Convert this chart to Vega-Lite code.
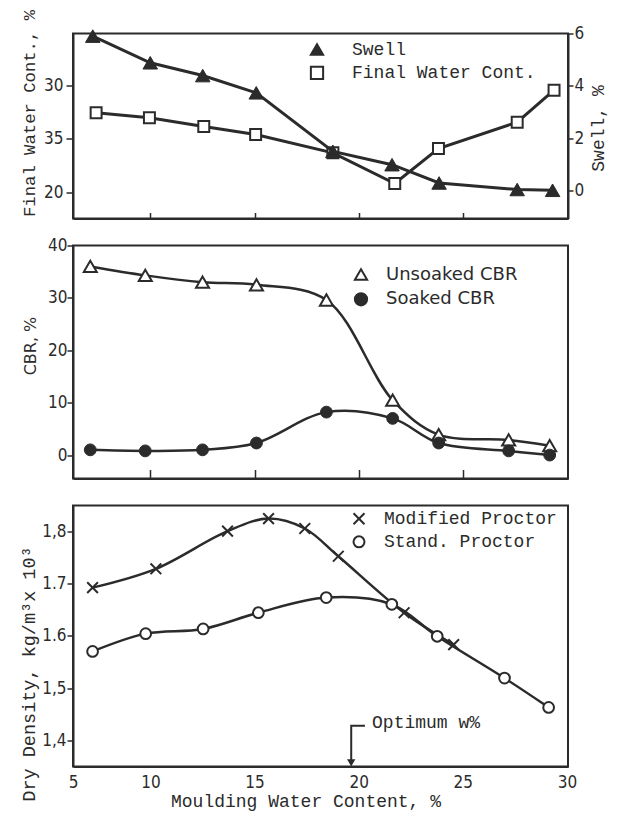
{
  "$schema": "https://vega.github.io/schema/vega-lite/v6.json",
  "background": "white",
  "padding": {"left": 17, "top": 7.5, "right": 5, "bottom": 0},
  "spacing": 27,
  "bounds": "flush",
  "resolve": {"scale": {"shape": "independent", "fill": "independent", "stroke": "independent"}, "legend": {"shape": "independent", "fill": "independent", "stroke": "independent"}},
  "datasets": {
    "top": [
      {"series": "Swell", "x": 7.23, "v": 5.9},
      {"series": "Swell", "x": 9.99, "v": 4.88},
      {"series": "Swell", "x": 12.51, "v": 4.39},
      {"series": "Swell", "x": 15.08, "v": 3.73},
      {"series": "Swell", "x": 18.76, "v": 1.49},
      {"series": "Swell", "x": 21.6, "v": 0.98},
      {"series": "Swell", "x": 23.86, "v": 0.28},
      {"series": "Swell", "x": 27.61, "v": 0.03},
      {"series": "Swell", "x": 29.31, "v": 0.0},
      {"series": "Final Water Cont.", "x": 7.39, "v": 27.42},
      {"series": "Final Water Cont.", "x": 9.95, "v": 26.95},
      {"series": "Final Water Cont.", "x": 12.56, "v": 26.14},
      {"series": "Final Water Cont.", "x": 15.05, "v": 25.39},
      {"series": "Final Water Cont.", "x": 18.76, "v": 23.68},
      {"series": "Final Water Cont.", "x": 21.73, "v": 20.81},
      {"series": "Final Water Cont.", "x": 23.83, "v": 24.08},
      {"series": "Final Water Cont.", "x": 27.61, "v": 26.54},
      {"series": "Final Water Cont.", "x": 29.38, "v": 29.53}
    ],
    "mid": [
      {"series": "Unsoaked CBR", "x": 7.11, "v": 36.0},
      {"series": "Unsoaked CBR", "x": 9.75, "v": 34.3},
      {"series": "Unsoaked CBR", "x": 12.5, "v": 33.0},
      {"series": "Unsoaked CBR", "x": 15.09, "v": 32.5},
      {"series": "Unsoaked CBR", "x": 18.45, "v": 29.6},
      {"series": "Unsoaked CBR", "x": 21.63, "v": 10.5},
      {"series": "Unsoaked CBR", "x": 23.84, "v": 3.9},
      {"series": "Unsoaked CBR", "x": 27.2, "v": 2.9},
      {"series": "Unsoaked CBR", "x": 29.17, "v": 1.8},
      {"series": "Soaked CBR", "x": 7.11, "v": 1.0},
      {"series": "Soaked CBR", "x": 9.75, "v": 0.8},
      {"series": "Soaked CBR", "x": 12.5, "v": 1.0},
      {"series": "Soaked CBR", "x": 15.09, "v": 2.3},
      {"series": "Soaked CBR", "x": 18.45, "v": 8.2},
      {"series": "Soaked CBR", "x": 21.63, "v": 7.0},
      {"series": "Soaked CBR", "x": 23.84, "v": 2.3},
      {"series": "Soaked CBR", "x": 27.2, "v": 0.8},
      {"series": "Soaked CBR", "x": 29.17, "v": 0.0}
    ],
    "bot": [
      {"series": "Modified Proctor", "x": 7.22, "v": 1.692},
      {"series": "Modified Proctor", "x": 10.26, "v": 1.728},
      {"series": "Modified Proctor", "x": 13.7, "v": 1.8},
      {"series": "Modified Proctor", "x": 15.67, "v": 1.824},
      {"series": "Modified Proctor", "x": 17.41, "v": 1.805},
      {"series": "Modified Proctor", "x": 19.02, "v": 1.752},
      {"series": "Modified Proctor", "x": 22.18, "v": 1.644},
      {"series": "Modified Proctor", "x": 24.56, "v": 1.583},
      {"series": "Stand. Proctor", "x": 7.22, "v": 1.57},
      {"series": "Stand. Proctor", "x": 9.77, "v": 1.604},
      {"series": "Stand. Proctor", "x": 12.53, "v": 1.613},
      {"series": "Stand. Proctor", "x": 15.18, "v": 1.644},
      {"series": "Stand. Proctor", "x": 18.44, "v": 1.673},
      {"series": "Stand. Proctor", "x": 21.59, "v": 1.66},
      {"series": "Stand. Proctor", "x": 23.77, "v": 1.599},
      {"series": "Stand. Proctor", "x": 27.0, "v": 1.519},
      {"series": "Stand. Proctor", "x": 29.12, "v": 1.463}
    ],
    "ann": [
      {"kind": "bracket", "x": 20.3, "v": 1.428, "o": 1},
      {"kind": "bracket", "x": 19.64, "v": 1.428, "o": 2},
      {"kind": "bracket", "x": 19.64, "v": 1.36, "o": 3},
      {"kind": "head", "x": 19.64, "v": 1.357},
      {"kind": "label", "x": 20.64, "v": 1.433, "label": "Optimum w%"}
    ]
  },
  "vconcat": [
    {
      "width": 495,
      "height": 185,
      "data": {"name": "top"},
      "encoding": {
        "x": {"field": "x", "type": "quantitative", "scale": {"domain": [6.28, 30.05], "nice": false, "zero": false},
              "axis": {"values": [10, 15, 20, 25], "labels": false, "tickSize": -6, "title": null}}
      },
      "layer": [
        {
          "transform": [{"filter": "datum.series == 'Final Water Cont.'"}],
          "encoding": {
            "y": {"field": "v", "type": "quantitative", "scale": {"domain": [17.54, 34.83], "nice": false, "zero": false},
                  "axis": {"orient": "left", "values": [20, 25, 30], "labelExpr": "datum.value == 25 ? '35' : datum.label",
                           "tickSize": 7, "labelPadding": 3, "title": "Final Water Cont., %", "titleFontSize": 17.25,
                           "titleX": -43.5, "titleY": 79.5, "titleBaseline": "middle", "titleAngle": 270}}
          },
          "layer": [
            {"mark": {"type": "line", "color": "#2b2b2b", "strokeWidth": 3}, "encoding": {}},
            {"mark": {"type": "point", "filled": true, "size": 120, "strokeWidth": 2, "opacity": 1},
             "encoding": {
               "shape": {"field": "series", "type": "nominal", "scale": {"domain": ["Swell", "Final Water Cont."], "range": ["triangle-up", "square"]},
                         "legend": {"title": null, "orient": "none", "legendX": 235, "legendY": 7, "labelFont": "Liberation Mono", "labelFontSize": 18, "symbolSize": 150, "symbolStrokeWidth": 2, "labelOffset": 26, "rowPadding": 2.4}},
               "fill": {"field": "series", "type": "nominal", "scale": {"domain": ["Swell", "Final Water Cont."], "range": ["#2b2b2b", "white"]},
                        "legend": {"title": null, "orient": "none", "legendX": 235, "legendY": 7, "labelFont": "Liberation Mono", "labelFontSize": 18, "symbolSize": 150, "symbolStrokeWidth": 2, "labelOffset": 26, "rowPadding": 2.4}},
               "stroke": {"field": "series", "type": "nominal", "scale": {"domain": ["Swell", "Final Water Cont."], "range": ["#2b2b2b", "#2b2b2b"]},
                          "legend": {"title": null, "orient": "none", "legendX": 235, "legendY": 7, "labelFont": "Liberation Mono", "labelFontSize": 18, "symbolSize": 150, "symbolStrokeWidth": 2, "labelOffset": 26, "rowPadding": 2.4}}
             }}
          ]
        },
        {
          "transform": [{"filter": "datum.series == 'Swell'"}],
          "encoding": {
            "y": {"field": "v", "type": "quantitative", "scale": {"domain": [-1.08, 6], "nice": false, "zero": false},
                  "axis": {"orient": "right", "values": [0, 2, 4, 6], "tickSize": 5, "labelPadding": 1,
                           "title": "Swell, %", "titleFontSize": 18, "titleX": 30, "titleY": 94.5, "titleBaseline": "middle", "titleAngle": 270}}
          },
          "layer": [
            {"mark": {"type": "line", "color": "#2b2b2b", "strokeWidth": 3}, "encoding": {}},
            {"mark": {"type": "point", "filled": true, "size": 210, "strokeWidth": 1, "opacity": 1},
             "encoding": {
               "shape": {"field": "series", "type": "nominal", "scale": {"domain": ["Swell", "Final Water Cont."], "range": ["triangle-up", "square"]},
                         "legend": {"title": null, "orient": "none", "legendX": 235, "legendY": 7, "labelFont": "Liberation Mono", "labelFontSize": 18, "symbolSize": 150, "symbolStrokeWidth": 2, "labelOffset": 26, "rowPadding": 2.4}},
               "fill": {"field": "series", "type": "nominal", "scale": {"domain": ["Swell", "Final Water Cont."], "range": ["#2b2b2b", "white"]},
                        "legend": {"title": null, "orient": "none", "legendX": 235, "legendY": 7, "labelFont": "Liberation Mono", "labelFontSize": 18, "symbolSize": 150, "symbolStrokeWidth": 2, "labelOffset": 26, "rowPadding": 2.4}},
               "stroke": {"field": "series", "type": "nominal", "scale": {"domain": ["Swell", "Final Water Cont."], "range": ["#2b2b2b", "#2b2b2b"]},
                          "legend": {"title": null, "orient": "none", "legendX": 235, "legendY": 7, "labelFont": "Liberation Mono", "labelFontSize": 18, "symbolSize": 150, "symbolStrokeWidth": 2, "labelOffset": 26, "rowPadding": 2.4}}
             }}
          ]
        }
      ],
      "resolve": {"scale": {"y": "independent"}}
    },
    {
      "width": 495,
      "height": 233,
      "data": {"name": "mid"},
      "encoding": {
        "x": {"field": "x", "type": "quantitative", "scale": {"domain": [6.28, 30.05], "nice": false, "zero": false},
              "axis": {"values": [10, 15, 20, 25], "labels": false, "tickSize": -9, "title": null}},
        "y": {"field": "v", "type": "quantitative", "scale": {"domain": [-4.47, 40], "nice": false, "zero": false},
              "axis": {"values": [0, 10, 20, 30, 40], "tickSize": 6, "labelPadding": 0, "title": "CBR, %",
                       "titleFont": "DejaVu Sans", "titleFontSize": 16, "titleX": -43, "titleY": 100, "titleBaseline": "middle", "titleAngle": 270}}
      },
      "layer": [
        {"mark": {"type": "line", "color": "#2b2b2b", "strokeWidth": 2.5, "interpolate": "catmull-rom"},
         "encoding": {"detail": {"field": "series"}}},
        {"transform": [{"filter": "datum.series == 'Unsoaked CBR'"}],
         "mark": {"type": "point", "filled": true, "size": 170, "strokeWidth": 2, "opacity": 1},
         "encoding": {
           "shape": {"field": "series", "type": "nominal", "scale": {"domain": ["Unsoaked CBR", "Soaked CBR"], "range": ["triangle-up", "circle"]},
                     "legend": {"title": null, "orient": "none", "legendX": 279, "legendY": 20, "labelFont": "DejaVu Sans", "labelFontSize": 18, "symbolSize": 150, "symbolStrokeWidth": 2, "labelOffset": 16, "rowPadding": 3.8}},
           "fill": {"field": "series", "type": "nominal", "scale": {"domain": ["Unsoaked CBR", "Soaked CBR"], "range": ["white", "#2b2b2b"]},
                    "legend": {"title": null, "orient": "none", "legendX": 279, "legendY": 20, "labelFont": "DejaVu Sans", "labelFontSize": 18, "symbolSize": 150, "symbolStrokeWidth": 2, "labelOffset": 16, "rowPadding": 3.8}},
           "stroke": {"field": "series", "type": "nominal", "scale": {"domain": ["Unsoaked CBR", "Soaked CBR"], "range": ["#2b2b2b", "#2b2b2b"]},
                      "legend": {"title": null, "orient": "none", "legendX": 279, "legendY": 20, "labelFont": "DejaVu Sans", "labelFontSize": 18, "symbolSize": 150, "symbolStrokeWidth": 2, "labelOffset": 16, "rowPadding": 3.8}}
         }},
        {"transform": [{"filter": "datum.series == 'Soaked CBR'"}],
         "mark": {"type": "point", "filled": true, "size": 140, "strokeWidth": 1, "opacity": 1},
         "encoding": {
           "shape": {"field": "series", "type": "nominal", "scale": {"domain": ["Unsoaked CBR", "Soaked CBR"], "range": ["triangle-up", "circle"]},
                     "legend": {"title": null, "orient": "none", "legendX": 279, "legendY": 20, "labelFont": "DejaVu Sans", "labelFontSize": 18, "symbolSize": 150, "symbolStrokeWidth": 2, "labelOffset": 16, "rowPadding": 3.8}},
           "fill": {"field": "series", "type": "nominal", "scale": {"domain": ["Unsoaked CBR", "Soaked CBR"], "range": ["white", "#2b2b2b"]},
                    "legend": {"title": null, "orient": "none", "legendX": 279, "legendY": 20, "labelFont": "DejaVu Sans", "labelFontSize": 18, "symbolSize": 150, "symbolStrokeWidth": 2, "labelOffset": 16, "rowPadding": 3.8}},
           "stroke": {"field": "series", "type": "nominal", "scale": {"domain": ["Unsoaked CBR", "Soaked CBR"], "range": ["#2b2b2b", "#2b2b2b"]},
                      "legend": {"title": null, "orient": "none", "legendX": 279, "legendY": 20, "labelFont": "DejaVu Sans", "labelFontSize": 18, "symbolSize": 150, "symbolStrokeWidth": 2, "labelOffset": 16, "rowPadding": 3.8}}
         }}
      ]
    },
    {
      "width": 495,
      "height": 261,
      "encoding": {
        "x": {"field": "x", "type": "quantitative", "scale": {"domain": [6.28, 30.05], "nice": false, "zero": false},
              "axis": {"values": [6.28, 10, 15, 20, 25, 30], "labelExpr": "datum.value < 7 ? '5' : datum.label", "labelFlush": false,
                       "ticks": false, "labelPadding": 8, "title": "Moulding Water Content, %", "titleFontSize": 18,
                       "titleX": 232.5, "titleY": 34.5, "titleBaseline": "middle"}},
        "y": {"field": "v", "type": "quantitative", "scale": {"domain": [1.35, 1.849], "nice": false, "zero": false},
              "axis": {"values": [1.4, 1.5, 1.6, 1.7, 1.8],
                       "labelExpr": "format(datum.value, '.1f') == '1.7' || format(datum.value, '.1f') == '1.6' ? format(datum.value, '.1f') : replace(format(datum.value, '.1f'), '.', ',')",
                       "tickSize": 6, "labelPadding": 1, "title": "Dry Density, kg/m³x 10³", "titleFontSize": 18.5,
                       "titleX": -45, "titleY": 168, "titleBaseline": "middle", "titleAngle": 270}}
      },
      "layer": [
        {"data": {"name": "bot"},
         "mark": {"type": "line", "color": "#2b2b2b", "strokeWidth": 2.5, "interpolate": "catmull-rom"},
         "encoding": {"detail": {"field": "series"}}},
        {"data": {"name": "bot"},
         "mark": {"type": "point", "filled": true, "size": 115, "strokeWidth": 2, "opacity": 1},
         "encoding": {
           "shape": {"field": "series", "type": "nominal", "scale": {"domain": ["Modified Proctor", "Stand. Proctor"], "range": ["M-1,-1L1,1M-1,1L1,-1", "circle"]},
                     "legend": {"title": null, "orient": "none", "legendX": 277, "legendY": 4.3, "labelFont": "Liberation Mono", "labelFontSize": 18, "symbolSize": 120, "symbolStrokeWidth": 2, "labelOffset": 16, "rowPadding": 3}},
           "fill": {"field": "series", "type": "nominal", "scale": {"domain": ["Modified Proctor", "Stand. Proctor"], "range": ["white", "white"]},
                    "legend": {"title": null, "orient": "none", "legendX": 277, "legendY": 4.3, "labelFont": "Liberation Mono", "labelFontSize": 18, "symbolSize": 120, "symbolStrokeWidth": 2, "labelOffset": 16, "rowPadding": 3}},
           "stroke": {"field": "series", "type": "nominal", "scale": {"domain": ["Modified Proctor", "Stand. Proctor"], "range": ["#2b2b2b", "#2b2b2b"]},
                      "legend": {"title": null, "orient": "none", "legendX": 277, "legendY": 4.3, "labelFont": "Liberation Mono", "labelFontSize": 18, "symbolSize": 120, "symbolStrokeWidth": 2, "labelOffset": 16, "rowPadding": 3}}
         }},
        {"data": {"name": "ann"},
         "transform": [{"filter": "datum.kind == 'bracket'"}],
         "mark": {"type": "line", "color": "#2b2b2b", "strokeWidth": 2},
         "encoding": {"order": {"field": "o"}}},
        {"data": {"name": "ann"},
         "transform": [{"filter": "datum.kind == 'head'"}],
         "mark": {"type": "point", "shape": "triangle-down", "filled": true, "size": 70, "color": "#2b2b2b", "opacity": 1},
         "encoding": {}},
        {"data": {"name": "ann"},
         "transform": [{"filter": "datum.kind == 'label'"}],
         "mark": {"type": "text", "align": "left", "baseline": "middle", "font": "Liberation Mono", "fontSize": 18, "color": "#2b2b2b"},
         "encoding": {"text": {"field": "label"}}}
      ]
    }
  ],
  "config": {
    "view": {"stroke": "#2b2b2b", "strokeWidth": 2},
    "axis": {
      "grid": false,
      "domainColor": "#2b2b2b",
      "domainWidth": 2,
      "tickColor": "#2b2b2b",
      "tickWidth": 1.5,
      "labelColor": "#2b2b2b",
      "labelFont": "Liberation Sans Narrow, DejaVu Sans Condensed, Liberation Sans, sans-serif",
      "labelFontSize": 17,
      "titleColor": "#2b2b2b",
      "titleFont": "Liberation Mono",
      "titleFontWeight": "normal"
    },
    "legend": {
      "labelColor": "#2b2b2b",
      "symbolStrokeWidth": 2,
      "labelLimit": 300
    }
  }
}
